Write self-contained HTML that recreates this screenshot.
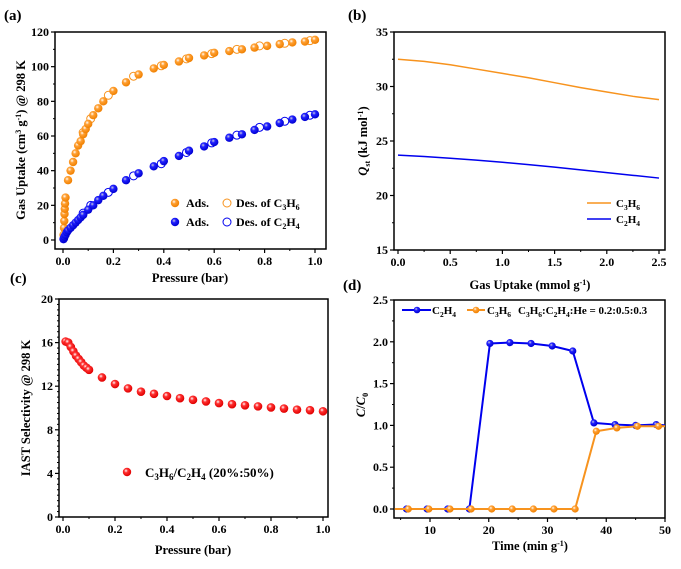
<!DOCTYPE html>
<html><head><meta charset="utf-8"><style>
html,body{margin:0;padding:0;background:#fff;}
svg{display:block;font-family:"Liberation Serif",serif;font-weight:bold;}
</style></head><body>
<svg id="s" width="681" height="569" viewBox="0 0 681 569" xmlns="http://www.w3.org/2000/svg">
<defs>
<radialGradient id="go" cx="0.38" cy="0.35" r="0.65"><stop offset="0" stop-color="#fff"/><stop offset="0.35" stop-color="#ffa033"/><stop offset="1" stop-color="#f08000"/></radialGradient>
<radialGradient id="gb" cx="0.38" cy="0.35" r="0.65"><stop offset="0" stop-color="#ccd"/><stop offset="0.35" stop-color="#2020ff"/><stop offset="1" stop-color="#0000d0"/></radialGradient>
<radialGradient id="gr" cx="0.38" cy="0.35" r="0.65"><stop offset="0" stop-color="#fff"/><stop offset="0.35" stop-color="#ff3030"/><stop offset="1" stop-color="#e00000"/></radialGradient>
</defs>
<g font-size="15"><text x="4" y="20">(a)</text><text x="348" y="20">(b)</text><text x="10" y="283">(c)</text><text x="343" y="290">(d)</text></g>
<g id="plots"></g>
<!-- axis titles -->
<g font-size="12.5" text-anchor="middle">
<text x="190" y="282">Pressure (bar)</text>
<text x="530" y="289">Gas Uptake (mmol g<tspan dy="-4" font-size="8">-1</tspan><tspan dy="4">)</tspan></text>
<text x="193" y="554">Pressure (bar)</text>
<text x="530" y="550">Time (min g<tspan dy="-4" font-size="8">-1</tspan><tspan dy="4">)</tspan></text>
<text transform="translate(25,140) rotate(-90)">Gas Uptake (cm<tspan dy="-4" font-size="8">3</tspan><tspan dy="4"> g</tspan><tspan dy="-4" font-size="8">-1</tspan><tspan dy="4">) @ 298 K</tspan></text>
<text transform="translate(367,141) rotate(-90)"><tspan font-style="italic">Q</tspan><tspan dy="3" font-size="8">st</tspan><tspan dy="-3"> (kJ mol</tspan><tspan dy="-4" font-size="8">-1</tspan><tspan dy="4">)</tspan></text>
<text transform="translate(30,408) rotate(-90)">IAST Selectivity @ 298 K</text>
<text transform="translate(365,405) rotate(-90)"><tspan font-style="italic">C</tspan>/<tspan font-style="italic">C</tspan><tspan dy="3" font-size="8">0</tspan></text>
</g>
<!-- legends -->
<g font-size="12">
<circle cx="175" cy="203" r="4.2" fill="url(#go)"/><text x="186" y="207">Ads.</text>
<circle cx="227" cy="203" r="4" fill="none" stroke="#f7931e"/><text x="236" y="207">Des. of C<tspan dy="3" font-size="8">3</tspan><tspan dy="-3">H</tspan><tspan dy="3" font-size="8">6</tspan></text>
<circle cx="175" cy="222" r="4.2" fill="url(#gb)"/><text x="186" y="226">Ads.</text>
<circle cx="227" cy="222" r="4" fill="none" stroke="#0000ee"/><text x="236" y="226">Des. of C<tspan dy="3" font-size="8">2</tspan><tspan dy="-3">H</tspan><tspan dy="3" font-size="8">4</tspan></text>
<line x1="587" y1="203" x2="611" y2="203" stroke="#f7931e" stroke-width="1.5"/><text x="616" y="207" font-size="11">C<tspan dy="3" font-size="7.5">3</tspan><tspan dy="-3">H</tspan><tspan dy="3" font-size="7.5">6</tspan></text>
<line x1="587" y1="219" x2="611" y2="219" stroke="#0000ee" stroke-width="1.5"/><text x="616" y="223" font-size="11">C<tspan dy="3" font-size="7.5">2</tspan><tspan dy="-3">H</tspan><tspan dy="3" font-size="7.5">4</tspan></text>
<circle cx="127" cy="472" r="4.2" fill="url(#gr)"/><text x="145" y="477" font-size="13">C<tspan dy="3" font-size="9">3</tspan><tspan dy="-3">H</tspan><tspan dy="3" font-size="9">6</tspan><tspan dy="-3">/C</tspan><tspan dy="3" font-size="9">2</tspan><tspan dy="-3">H</tspan><tspan dy="3" font-size="9">4</tspan><tspan dy="-3"> (20%:50%)</tspan></text>
<line x1="402" y1="310" x2="431" y2="310" stroke="#0000ee" stroke-width="2"/><circle cx="417" cy="310" r="3.3" fill="url(#gb)"/>
<text x="432" y="314" font-size="11">C<tspan dy="3" font-size="7.5">2</tspan><tspan dy="-3">H</tspan><tspan dy="3" font-size="7.5">4</tspan></text>
<line x1="467" y1="310" x2="485" y2="310" stroke="#f7931e" stroke-width="2"/><circle cx="476" cy="310" r="3.3" fill="url(#go)"/>
<text x="487" y="314" font-size="11">C<tspan dy="3" font-size="7.5">3</tspan><tspan dy="-3">H</tspan><tspan dy="3" font-size="7.5">6</tspan></text>
<text x="518" y="314" font-size="11">C<tspan dy="3" font-size="7.5">3</tspan><tspan dy="-3">H</tspan><tspan dy="3" font-size="7.5">6</tspan><tspan dy="-3">:C</tspan><tspan dy="3" font-size="7.5">2</tspan><tspan dy="-3">H</tspan><tspan dy="3" font-size="7.5">4</tspan><tspan dy="-3">:He = 0.2:0.5:0.3</tspan></text>
</g>
</svg>
<script>
var NS="http://www.w3.org/2000/svg",G=document.getElementById("plots");
function el(t,a,p){var e=document.createElementNS(NS,t);for(var k in a)e.setAttribute(k,a[k]);(p||G).appendChild(e);return e;}
function txt(x,y,s,anchor){var e=el("text",{x:x,y:y,"font-size":12,"text-anchor":anchor});e.textContent=s;}
function axes(o){
 el("rect",{x:o.l,y:o.t,width:o.r-o.l,height:o.b-o.t,fill:"none",stroke:"#000","stroke-width":1.5});
 o.xt.forEach(function(v,i){var X=o.fx(v);el("line",{x1:X,y1:o.b,x2:X,y2:o.b+4,stroke:"#000","stroke-width":1.2});txt(X,o.b+16,o.xl[i],"middle");});
 (o.xm||[]).forEach(function(v){var X=o.fx(v);el("line",{x1:X,y1:o.b,x2:X,y2:o.b+2,stroke:"#000"});});
 o.yt.forEach(function(v,i){var Y=o.fy(v);el("line",{x1:o.l-4,y1:Y,x2:o.l,y2:Y,stroke:"#000","stroke-width":1.2});txt(o.l-6,Y+4,o.yl[i],"end");});
 (o.ym||[]).forEach(function(v){var Y=o.fy(v);el("line",{x1:o.l-2,y1:Y,x2:o.l,y2:Y,stroke:"#000"});});
}
function rng(a,b,s){var r=[];for(var v=a;v<=b+1e-9;v+=s)r.push(+v.toFixed(4));return r;}
// (a)
var ax=function(p){return 63+252*p},ay=function(q){return 240-1.7333*q};
axes({l:55,r:326,t:32,b:249,fx:ax,fy:ay,xt:rng(0,1,0.2),xl:["0.0","0.2","0.4","0.6","0.8","1.0"],xm:rng(0.1,0.9,0.2),yt:rng(0,120,20),yl:["0","20","40","60","80","100","120"],ym:rng(10,110,20)});
var c3a=[[0.002,3],[0.004,7],[0.005,11],[0.006,15],[0.007,18],[0.008,21],[0.01,24.5],[0.02,34.5],[0.03,40],[0.04,45],[0.05,50],[0.06,54.5],[0.07,57],[0.08,61],[0.09,64],[0.1,67],[0.12,72],[0.14,76],[0.16,80],[0.2,86],[0.25,91],[0.3,95.5],[0.36,99],[0.4,101],[0.46,103],[0.5,105],[0.56,106.5],[0.6,108],[0.66,109],[0.71,110],[0.76,111],[0.81,112],[0.86,113],[0.91,114],[0.96,114.5],[1.0,115.5]];
var c3d=[[0.98,115],[0.88,113.5],[0.78,112],[0.69,110],[0.59,107.5],[0.49,104.5],[0.39,100.5],[0.28,94.5],[0.18,83.5],[0.11,70],[0.08,62]];
var c2a=[[0.002,0.5],[0.004,1],[0.006,2],[0.01,3],[0.015,4.5],[0.02,5.5],[0.03,7],[0.04,8.5],[0.05,10],[0.06,11.5],[0.07,13],[0.08,14.5],[0.1,17.5],[0.12,20],[0.14,23],[0.16,25.5],[0.2,29.5],[0.25,34.5],[0.3,38.5],[0.36,42.5],[0.4,45.5],[0.46,48.5],[0.5,51.5],[0.56,54],[0.6,56.5],[0.66,59],[0.71,61],[0.76,63.5],[0.81,65.5],[0.86,67.5],[0.91,69.5],[0.96,71],[1.0,72.5]];
var c2d=[[0.98,72],[0.88,68.5],[0.78,65],[0.69,60.5],[0.59,56],[0.49,50.5],[0.39,44],[0.28,37],[0.18,27.5],[0.11,20],[0.08,15.5]];
c3d.forEach(function(p){el("circle",{cx:ax(p[0]),cy:ay(p[1]),r:4,fill:"#fff",stroke:"#f7931e"});});
c2d.forEach(function(p){el("circle",{cx:ax(p[0]),cy:ay(p[1]),r:4,fill:"#fff",stroke:"#0000ee"});});
c3a.forEach(function(p){el("circle",{cx:ax(p[0]),cy:ay(p[1]),r:4.2,fill:"url(#go)"});});
c2a.forEach(function(p){el("circle",{cx:ax(p[0]),cy:ay(p[1]),r:4.2,fill:"url(#gb)"});});
// (b)
var bx=function(u){return 398+104.4*u},by=function(v){return 32+(35-v)*10.9};
axes({l:394,r:665,t:32,b:250,fx:bx,fy:by,xt:rng(0,2.5,0.5),xl:["0.0","0.5","1.0","1.5","2.0","2.5"],xm:rng(0.25,2.25,0.5),yt:[15,20,25,30,35],yl:["15","20","25","30","35"],ym:[17.5,22.5,27.5,32.5]});
var q3=[32.5,32.3,32.0,31.6,31.2,30.8,30.35,29.9,29.5,29.1,28.8],q2=[23.7,23.58,23.42,23.25,23.05,22.83,22.6,22.35,22.1,21.85,21.6];
function line(pts,col,w){el("polyline",{points:pts.map(function(p){return p.join(",")}).join(" "),fill:"none",stroke:col,"stroke-width":w||1.5});}
line(q3.map(function(v,i){return [bx(i*0.25),by(v)]}),"#f7931e");
line(q2.map(function(v,i){return [bx(i*0.25),by(v)]}),"#0000ee");
// (c)
var cx=function(p){return 63+260*p},cy=function(s){return 517-10.9*s};
axes({l:59,r:328,t:299,b:517,fx:cx,fy:cy,xt:rng(0,1,0.2),xl:["0.0","0.2","0.4","0.6","0.8","1.0"],xm:rng(0.1,0.9,0.2),yt:[0,4,8,12,16,20],yl:["0","4","8","12","16","20"],ym:rng(0.5,19.5,0.5).filter(function(v){return v%4!==0})});
var sel=[[0.01,16.1],[0.02,16.0],[0.03,15.6],[0.04,15.2],[0.05,14.8],[0.06,14.5],[0.07,14.2],[0.08,13.9],[0.09,13.7],[0.1,13.5],[0.15,12.8],[0.2,12.2],[0.25,11.8],[0.3,11.5],[0.35,11.3],[0.4,11.1],[0.45,10.9],[0.5,10.75],[0.55,10.6],[0.6,10.45],[0.65,10.35],[0.7,10.25],[0.75,10.15],[0.8,10.05],[0.85,9.95],[0.9,9.85],[0.95,9.8],[1.0,9.7]];
sel.forEach(function(p){el("circle",{cx:cx(p[0]),cy:cy(p[1]),r:4.3,fill:"url(#gr)"});});
// (d)
var dx=function(t){return 430+(t-10)*5.875},dy=function(c){return 509-83.6*c};
axes({l:394,r:665,t:300,b:518,fx:dx,fy:dy,xt:[10,20,30,40,50],xl:["10","20","30","40","50"],xm:[5,15,25,35,45],yt:[0,0.5,1,1.5,2,2.5],yl:["0.0","0.5","1.0","1.5","2.0","2.5"],ym:[0.25,0.75,1.25,1.75,2.25]});
var e2=[[6,0],[9.5,0],[13,0],[16.7,0],[20.2,1.98],[23.6,1.99],[27.2,1.98],[30.8,1.95],[34.3,1.89],[37.9,1.03],[41.5,1.01],[45,1.0],[48.5,1.01],[50,1.0]];
var e3=[[4,0],[6.3,0],[9.8,0],[13.4,0],[17,0],[20.5,0],[24,0],[27.6,0],[31.1,0],[34.7,0],[38.3,0.93],[41.8,0.97],[45.3,0.99],[48.9,0.99],[50,0.99]];
line(e2.map(function(p){return [dx(p[0]),dy(p[1])]}),"#0000ee",2);
e2.slice(0,13).forEach(function(p){el("circle",{cx:dx(p[0]),cy:dy(p[1]),r:3.6,fill:"url(#gb)"});});
line(e3.map(function(p){return [dx(p[0]),dy(p[1])]}),"#f7931e",2);
e3.slice(1,14).forEach(function(p){el("circle",{cx:dx(p[0]),cy:dy(p[1]),r:3.6,fill:"url(#go)"});});
</script>
</body></html>
